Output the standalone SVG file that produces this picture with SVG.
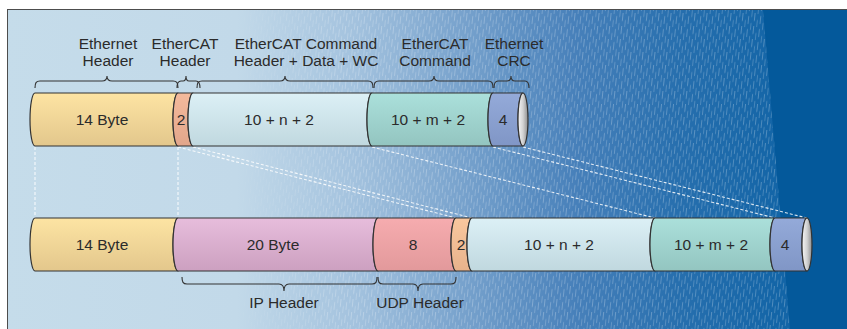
<svg xmlns="http://www.w3.org/2000/svg" width="847" height="329" viewBox="0 0 847 329">
  <defs>
    <style>
      .seg { stroke: #333; stroke-width: 1.2; stroke-linejoin: round; }
      .brace { fill: none; stroke: #333; stroke-width: 1.1; }
      .dash { fill: none; stroke: #ffffff; stroke-width: 1.1; stroke-dasharray: 3 2; opacity: 0.85; }
      .lbl { font-family: "Liberation Sans", Arial, sans-serif; font-size: 15.5px; fill: #2b2b2b; text-anchor: middle; }
    </style>
    <linearGradient id="bg" gradientUnits="userSpaceOnUse" x1="0" y1="0" x2="847" y2="0">
      <stop offset="0" stop-color="#c5dcea"/>
      <stop offset="0.28" stop-color="#c2d9e9"/>
      <stop offset="0.42" stop-color="#a3c2de"/>
      <stop offset="0.55" stop-color="#76a1cc"/>
      <stop offset="0.68" stop-color="#4780ba"/>
      <stop offset="0.8" stop-color="#276fae"/>
      <stop offset="0.92" stop-color="#1365a7"/>
    </linearGradient>
    <linearGradient id="texFade" gradientUnits="userSpaceOnUse" x1="230" y1="0" x2="340" y2="0">
      <stop offset="0" stop-color="#fff" stop-opacity="0"/>
      <stop offset="1" stop-color="#fff" stop-opacity="1"/>
    </linearGradient>
    <pattern id="streaks" patternUnits="userSpaceOnUse" width="12" height="13" patternTransform="skewX(-6)">
      <rect x="0" y="0" width="1" height="8" fill="#ffffff" opacity="0.26"/>
      <rect x="3" y="7" width="1" height="7" fill="#ffffff" opacity="0.2"/>
      <rect x="3" y="-6" width="1" height="7" fill="#ffffff" opacity="0.2"/>
      <rect x="6" y="3" width="1" height="8" fill="#ffffff" opacity="0.24"/>
      <rect x="9" y="10" width="1" height="7" fill="#ffffff" opacity="0.2"/>
      <rect x="9" y="-3" width="1" height="7" fill="#ffffff" opacity="0.2"/>
    </pattern>
    <mask id="texMask">
      <polygon points="7,9 763,9 790,329 7,329" fill="url(#texFade)"/>
    </mask>
    <linearGradient id="gYellow" x1="0" y1="0" x2="0" y2="1">
      <stop offset="0" stop-color="#fde4a3"/><stop offset="1" stop-color="#e3c78c"/>
    </linearGradient>
    <linearGradient id="gSalmon" x1="0" y1="0" x2="0" y2="1">
      <stop offset="0" stop-color="#f4ba9c"/><stop offset="1" stop-color="#e2a68b"/>
    </linearGradient>
    <linearGradient id="gPeach" x1="0" y1="0" x2="0" y2="1">
      <stop offset="0" stop-color="#f9c79e"/><stop offset="1" stop-color="#e8b38c"/>
    </linearGradient>
    <linearGradient id="gCyan" x1="0" y1="0" x2="0" y2="1">
      <stop offset="0" stop-color="#dcf0f6"/><stop offset="1" stop-color="#c0d8df"/>
    </linearGradient>
    <linearGradient id="gTeal" x1="0" y1="0" x2="0" y2="1">
      <stop offset="0" stop-color="#abe0db"/><stop offset="1" stop-color="#93c5c0"/>
    </linearGradient>
    <linearGradient id="gBlue" x1="0" y1="0" x2="0" y2="1">
      <stop offset="0" stop-color="#94aad9"/><stop offset="1" stop-color="#8096c6"/>
    </linearGradient>
    <linearGradient id="gPurple" x1="0" y1="0" x2="0" y2="1">
      <stop offset="0" stop-color="#e7bddc"/><stop offset="1" stop-color="#cca0c0"/>
    </linearGradient>
    <linearGradient id="gPink" x1="0" y1="0" x2="0" y2="1">
      <stop offset="0" stop-color="#f6acaf"/><stop offset="1" stop-color="#e2999b"/>
    </linearGradient>
    <linearGradient id="gCap" x1="0" y1="0" x2="1" y2="0">
      <stop offset="0" stop-color="#f6f6f6"/><stop offset="0.5" stop-color="#d2d2d2"/><stop offset="1" stop-color="#8e8e8e"/>
    </linearGradient>
  </defs>

  <!-- background panel -->
  <rect x="0" y="0" width="847" height="329" fill="#ffffff"/>
  <rect x="7.5" y="9.5" width="845" height="330" fill="url(#bg)" stroke="#4d4d4d" stroke-width="1"/>
  <polygon points="763,10 847,10 847,329 790,329" fill="#04599b"/>
  <rect x="8" y="10" width="782" height="319" fill="url(#streaks)" mask="url(#texMask)"/>

  <!-- mapping lines between the two frames -->
  <g id="connectors">
    <line class="dash" x1="35" y1="147" x2="35" y2="218"/>
    <line class="dash" x1="178" y1="147" x2="178" y2="218"/>
    <line class="dash" x1="178" y1="147" x2="456" y2="218"/>
    <line class="dash" x1="193" y1="147" x2="472" y2="218"/>
    <line class="dash" x1="372" y1="147" x2="655" y2="218"/>
    <line class="dash" x1="493" y1="147" x2="775" y2="218"/>
    <line class="dash" x1="523" y1="147" x2="807" y2="218"/>
  </g>

  <!-- EtherCAT frame (top) -->
  <g id="frame-ethercat">
    <g id="top-eth-header">
      <path class="seg" fill="url(#gYellow)" d="M35,93 A5,26.5 0 0 0 35,146 L178,146 A5,26.5 0 0 1 178,93 Z"/>
      <text class="lbl" x="102" y="125">14 Byte</text>
    </g>
    <g id="top-ecat-header">
      <path class="seg" fill="url(#gSalmon)" d="M178,93 A5,26.5 0 0 0 178,146 L193,146 A5,26.5 0 0 1 193,93 Z"/>
      <text class="lbl" x="181" y="125">2</text>
    </g>
    <g id="top-cmd-data">
      <path class="seg" fill="url(#gCyan)" d="M193,93 A5,26.5 0 0 0 193,146 L372,146 A5,26.5 0 0 1 372,93 Z"/>
      <text class="lbl" x="279" y="125">10 + n + 2</text>
    </g>
    <g id="top-cmd">
      <path class="seg" fill="url(#gTeal)" d="M372,93 A5,26.5 0 0 0 372,146 L493,146 A5,26.5 0 0 1 493,93 Z"/>
      <text class="lbl" x="428" y="125">10 + m + 2</text>
    </g>
    <g id="top-crc">
      <path class="seg" fill="url(#gBlue)" d="M493,93 A5,26.5 0 0 0 493,146 L523,146 A5,26.5 0 0 1 523,93 Z"/>
      <ellipse class="seg" cx="523" cy="119.5" rx="5" ry="26.5" fill="url(#gCap)"/>
      <text class="lbl" x="503" y="125">4</text>
    </g>
    <g id="top-labels">
      <path class="brace" d="M35,88 C35,83 36,81 40,81 L102,81 C105,81 107,79 107,76 C107,79 109,81 112,81 L173,81 C177,81 178,83 178,88"/>
      <text class="lbl" x="108" y="49">Ethernet</text>
      <text class="lbl" x="108" y="66">Header</text>
      <path class="brace" d="M177,88 C177,83 178,81 181,81 L183,81 C185,81 186,79 186,76 C186,79 187,81 189,81 L196,81 C199,81 200,83 200,88"/>
      <text class="lbl" x="185" y="49">EtherCAT</text>
      <text class="lbl" x="185" y="66">Header</text>
      <path class="brace" d="M197,88 C197,83 198,81 202,81 L280,81 C283,81 285,79 285,76 C285,79 287,81 290,81 L368,81 C372,81 373,83 373,88"/>
      <text class="lbl" x="306" y="49">EtherCAT Command</text>
      <text class="lbl" x="306" y="66">Header + Data + WC</text>
      <path class="brace" d="M374,88 C374,83 375,81 379,81 L429,81 C432,81 434,79 434,76 C434,79 436,81 439,81 L488,81 C492,81 493,83 493,88"/>
      <text class="lbl" x="435" y="49">EtherCAT</text>
      <text class="lbl" x="435" y="66">Command</text>
      <path class="brace" d="M494,88 C494,83 495,81 498,81 L507,81 C510,81 511,79 511,76 C511,79 512,81 515,81 L525,81 C528,81 529,83 529,88"/>
      <text class="lbl" x="514" y="49">Ethernet</text>
      <text class="lbl" x="514" y="66">CRC</text>
    </g>
  </g>

  <!-- EtherCAT in UDP/IP frame (bottom) -->
  <g id="frame-udp">
    <g id="bot-eth-header">
      <path class="seg" fill="url(#gYellow)" d="M35,218 A5,26.5 0 0 0 35,271 L178,271 A5,26.5 0 0 1 178,218 Z"/>
      <text class="lbl" x="102" y="250">14 Byte</text>
    </g>
    <g id="bot-ip-header">
      <path class="seg" fill="url(#gPurple)" d="M178,218 A5,26.5 0 0 0 178,271 L378,271 A5,26.5 0 0 1 378,218 Z"/>
      <text class="lbl" x="273" y="250">20 Byte</text>
    </g>
    <g id="bot-udp-header">
      <path class="seg" fill="url(#gPink)" d="M378,218 A5,26.5 0 0 0 378,271 L456,271 A5,26.5 0 0 1 456,218 Z"/>
      <text class="lbl" x="413" y="250">8</text>
    </g>
    <g id="bot-ecat-header">
      <path class="seg" fill="url(#gPeach)" d="M456,218 A5,26.5 0 0 0 456,271 L472,271 A5,26.5 0 0 1 472,218 Z"/>
      <text class="lbl" x="461" y="250">2</text>
    </g>
    <g id="bot-cmd-data">
      <path class="seg" fill="url(#gCyan)" d="M472,218 A5,26.5 0 0 0 472,271 L655,271 A5,26.5 0 0 1 655,218 Z"/>
      <text class="lbl" x="559" y="250">10 + n + 2</text>
    </g>
    <g id="bot-cmd">
      <path class="seg" fill="url(#gTeal)" d="M655,218 A5,26.5 0 0 0 655,271 L775,271 A5,26.5 0 0 1 775,218 Z"/>
      <text class="lbl" x="711" y="250">10 + m + 2</text>
    </g>
    <g id="bot-crc">
      <path class="seg" fill="url(#gBlue)" d="M775,218 A5,26.5 0 0 0 775,271 L807,271 A5,26.5 0 0 1 807,218 Z"/>
      <ellipse class="seg" cx="807" cy="244.5" rx="5" ry="26.5" fill="url(#gCap)"/>
      <text class="lbl" x="785" y="250">4</text>
    </g>
    <g id="bot-labels">
      <path class="brace" d="M182,277 C182,282 183,284 187,284 L279,284 C282,284 284,286 284,291 C284,286 286,284 289,284 L372,284 C376,284 377,282 377,277"/>
      <text class="lbl" x="284" y="308">IP Header</text>
      <path class="brace" d="M378,277 C378,282 379,284 383,284 L413,284 C416,284 418,286 418,291 C418,286 420,284 423,284 L451,284 C455,284 456,282 456,277"/>
      <text class="lbl" x="420" y="308">UDP Header</text>
    </g>
  </g>
</svg>
